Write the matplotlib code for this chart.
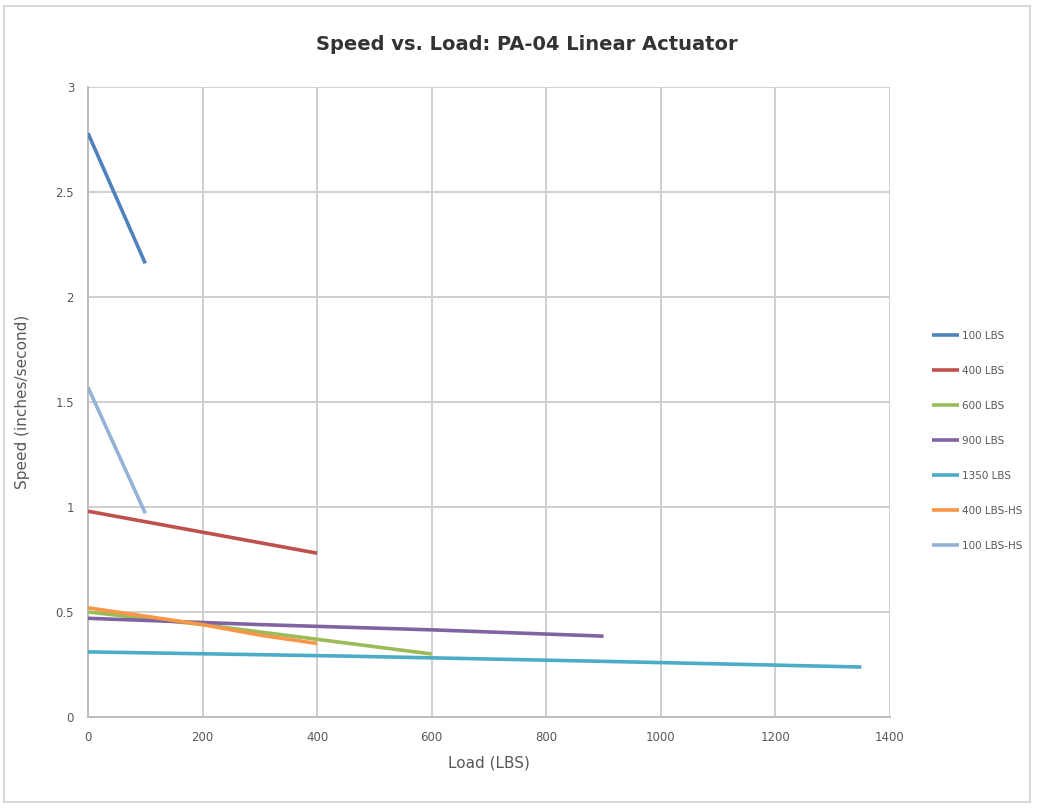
import matplotlib
matplotlib.use("Agg")
import matplotlib.pyplot as plt
from matplotlib.patches import Rectangle

title = "Speed vs. Load: PA-04 Linear Actuator"
x_label = "Load (LBS)"
y_label = "Speed (inches/second)"

series_names = ["100 LBS", "400 LBS", "600 LBS", "900 LBS", "1350 LBS",
                "400 LBS-HS", "100 LBS-HS"]
series_colors = ["#4F81BD", "#C0504D", "#9BBB59", "#8064A2", "#4BACC6",
                 "#F79646", "#95B3D7"]

load_100 = [0, 100]
speed_100 = [2.78, 2.16]
load_400 = [0, 100, 200, 300, 400]
speed_400 = [0.98, 0.93, 0.88, 0.83, 0.78]
load_600 = [0, 200, 400, 600]
speed_600 = [0.50, 0.44, 0.37, 0.30]
load_900 = [0, 300, 600, 900]
speed_900 = [0.47, 0.44, 0.415, 0.385]
load_1350 = [0, 450, 900, 1350]
speed_1350 = [0.31, 0.29, 0.265, 0.238]
load_400hs = [0, 100, 200, 300, 400]
speed_400hs = [0.52, 0.48, 0.44, 0.39, 0.35]
load_100hs = [0, 100]
speed_100hs = [1.57, 0.97]

loads = [load_100, load_400, load_600, load_900, load_1350, load_400hs, load_100hs]
speeds = [speed_100, speed_400, speed_600, speed_900, speed_1350, speed_400hs, speed_100hs]

x_ticks = [0, 200, 400, 600, 800, 1000, 1200, 1400]
y_ticks = [0, 0.5, 1, 1.5, 2, 2.5, 3]
y_tick_labels = ["0", "0.5", "1", "1.5", "2", "2.5", "3"]

W, H = 1037, 808
fig = plt.figure(figsize=(W / 100, H / 100), dpi=100)
fig.patch.set_facecolor("white")

# chart-area border
fig.patches.append(Rectangle((4 / W, 6 / H), 1026 / W, 796 / H, transform=fig.transFigure,
                             fill=False, edgecolor="#d9d9d9", linewidth=1.5))

left, right, top, bottom = 88, 890, 87, 717
ax = fig.add_axes([left / W, 1 - bottom / H, (right - left) / W, (bottom - top) / H])

for xs, ys, name, col in zip(loads, speeds, series_names, series_colors):
    ax.plot(xs, ys, color=col, linewidth=2.6, label=name, solid_capstyle="butt", zorder=3)

ax.set_xlim(0, 1400)
ax.set_ylim(0, 3)
ax.set_xticks(x_ticks)
ax.set_yticks(y_ticks)
ax.set_yticklabels(y_tick_labels)
ax.grid(True, color="#cfcfcf", linewidth=1.4, zorder=0)
ax.set_axisbelow(True)
for s in ["top", "right"]:
    ax.spines[s].set_visible(False)
for s in ["left", "bottom"]:
    ax.spines[s].set_color("#bdbdbd")
    ax.spines[s].set_linewidth(1.4)
ax.tick_params(axis="both", length=0, labelsize=8.5, colors="#595959", pad=10)

ax.set_xlabel(x_label, fontsize=11, color="#595959", labelpad=8)
ax.set_ylabel(y_label, fontsize=11, color="#595959", labelpad=18)

fig.text(527 / W, 1 - 45 / H, title, ha="center", va="center", fontsize=14,
         fontweight="bold", color="#333333")

leg = fig.legend(loc="center left", bbox_to_anchor=(928 / W, 1 - 441 / H), frameon=False,
                 fontsize=7.5, labelspacing=2.4, handlelength=2.6, handletextpad=0.3,
                 borderaxespad=0)
for t in leg.get_texts():
    t.set_color("#595959")

fig.savefig("out.png", dpi=100, facecolor="white")
